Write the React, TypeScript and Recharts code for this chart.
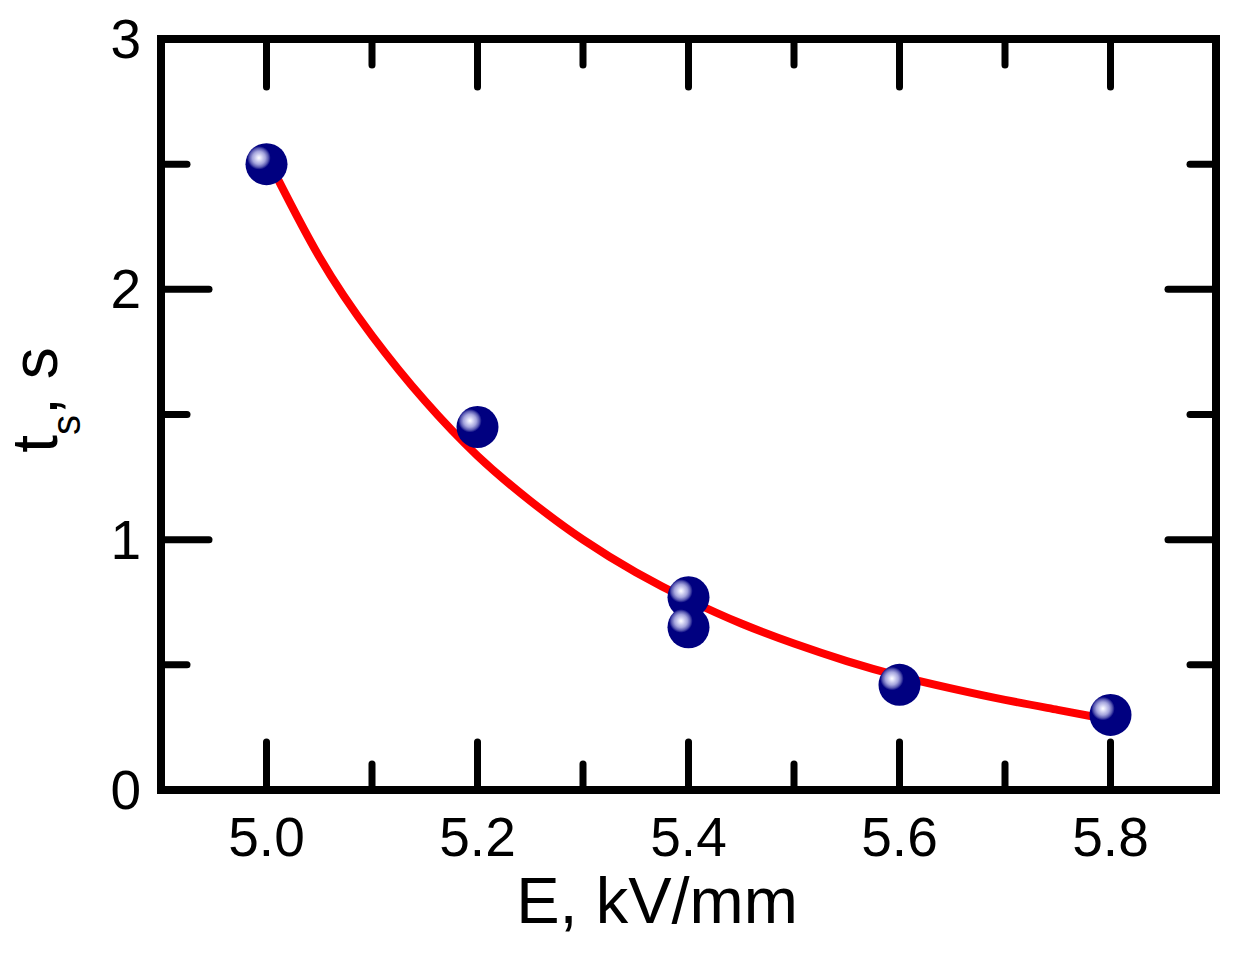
import React from "react";
import {
  ComposedChart,
  Scatter,
  Line,
  XAxis,
  YAxis,
} from "recharts";

// measured points: field strength (kV/mm) vs switching time (s)
const fieldE = [5.0, 5.2, 5.4, 5.4, 5.6, 5.8];
const switchTime = [2.5, 1.45, 0.77, 0.65, 0.42, 0.3];

// fitted curve
const fitE = [5.0, 5.05, 5.1, 5.15, 5.2, 5.25, 5.3, 5.35, 5.4, 5.45, 5.5, 5.55, 5.6, 5.65, 5.7, 5.75, 5.8];
const fitT = [2.53, 2.13, 1.815, 1.555, 1.335, 1.155, 1.0, 0.87, 0.76, 0.665, 0.585, 0.515, 0.455, 0.405, 0.36, 0.32, 0.28];

const xTicks = [5.0, 5.1, 5.2, 5.3, 5.4, 5.5, 5.6, 5.7, 5.8];
const xLabels = [5.0, 5.2, 5.4, 5.6, 5.8];
const yTicks = [0, 0.5, 1, 1.5, 2, 2.5, 3];
const yLabels = [0, 1, 2, 3];

const points = fieldE.map((E, i) => ({ E, t: switchTime[i] }));
const fit = fitE.map((E, i) => ({ E, t: fitT[i] }));

const FONT = "'Liberation Sans', Arial, sans-serif";
const MAJOR = 48;
const MINOR = 26;

const isIn = (list: number[], v: number) => list.some((l) => Math.abs(l - v) < 1e-6);

const tickLine = {
  stroke: "#000",
  strokeWidth: 7,
  strokeLinecap: "round" as const,
};

const BottomTick = (props: any) => {
  const { x, y, payload } = props;
  const major = isIn(xLabels, payload.value);
  return (
    <g>
      <line x1={x} x2={x} y1={y} y2={y - (major ? MAJOR : MINOR)} {...tickLine} />
      {major && (
        <text x={x} y={y + 66} textAnchor="middle" fontSize={55} fontFamily={FONT} fill="#000">
          {payload.value.toFixed(1)}
        </text>
      )}
    </g>
  );
};

const TopTick = (props: any) => {
  const { x, y, payload } = props;
  const major = isIn(xLabels, payload.value);
  return <line x1={x} x2={x} y1={y} y2={y + (major ? MAJOR : MINOR)} {...tickLine} />;
};

const LeftTick = (props: any) => {
  const { x, y, payload } = props;
  const major = isIn(yLabels, payload.value);
  return (
    <g>
      <line x1={x} x2={x + (major ? MAJOR : MINOR)} y1={y} y2={y} {...tickLine} />
      {major && (
        <text x={x - 20} y={y + 19} textAnchor="end" fontSize={55} fontFamily={FONT} fill="#000">
          {payload.value}
        </text>
      )}
    </g>
  );
};

const RightTick = (props: any) => {
  const { x, y, payload } = props;
  const major = isIn(yLabels, payload.value);
  return <line x1={x} x2={x - (major ? MAJOR : MINOR)} y1={y} y2={y} {...tickLine} />;
};

const Ball = (props: any) => {
  const { cx, cy, index } = props;
  const id = `ball-${index}`;
  return (
    <g>
      <defs>
        <radialGradient id={id} cx="0.32" cy="0.35" fx="0.32" fy="0.35" r="0.7">
          <stop offset="0" stopColor="#ffffff" />
          <stop offset="0.07" stopColor="#e4e4fa" />
          <stop offset="0.22" stopColor="#a4a4dc" />
          <stop offset="0.32" stopColor="#5858b0" />
          <stop offset="0.4" stopColor="#000080" />
          <stop offset="1" stopColor="#000080" />
        </radialGradient>
      </defs>
      <circle cx={cx} cy={cy} r={21} fill={`url(#${id})`} />
    </g>
  );
};

const frame = {
  stroke: "#000",
  strokeWidth: 8,
  strokeLinecap: "square" as const,
};

export default function App() {
  return (
    <div style={{ position: "absolute", left: 0, top: 0, width: 1244, height: 953, background: "#fff" }}>
      <ComposedChart
        width={1244}
        height={953}
        margin={{ top: 38, right: 27, bottom: 162, left: 160 }}
      >
        <XAxis
          xAxisId="bottom"
          dataKey="E"
          type="number"
          domain={[4.9, 5.9]}
          allowDataOverflow
          ticks={xTicks}
          interval={0}
          height={1}
          tickSize={0}
          tickMargin={0}
          tickLine={false}
          axisLine={frame}
          tick={<BottomTick />}
        />
        <XAxis
          xAxisId="top"
          orientation="top"
          dataKey="E"
          type="number"
          domain={[4.9, 5.9]}
          allowDataOverflow
          ticks={xTicks}
          interval={0}
          height={1}
          tickSize={0}
          tickMargin={0}
          tickLine={false}
          axisLine={frame}
          tick={<TopTick />}
        />
        <YAxis
          yAxisId="left"
          dataKey="t"
          type="number"
          domain={[0, 3]}
          allowDataOverflow
          ticks={yTicks}
          interval={0}
          width={1}
          tickSize={0}
          tickMargin={0}
          tickLine={false}
          axisLine={frame}
          tick={<LeftTick />}
        />
        <YAxis
          yAxisId="right"
          orientation="right"
          dataKey="t"
          type="number"
          domain={[0, 3]}
          allowDataOverflow
          ticks={yTicks}
          interval={0}
          width={1}
          tickSize={0}
          tickMargin={0}
          tickLine={false}
          axisLine={frame}
          tick={<RightTick />}
        />
        <Scatter
          data={points}
          dataKey="t"
          xAxisId="bottom"
          yAxisId="left"
          shape={<Ball />}
          isAnimationActive={false}
        />
        <Line
          data={fit}
          dataKey="t"
          xAxisId="bottom"
          yAxisId="left"
          type="natural"
          stroke="#ff0000"
          strokeWidth={8}
          dot={false}
          activeDot={false}
          isAnimationActive={false}
        />
        <text
          x={657}
          y={923}
          textAnchor="middle"
          fontSize={65}
          fontFamily={FONT}
          fill="#000"
        >
          E, kV/mm
        </text>
        <text
          transform="translate(57,400) rotate(-90)"
          textAnchor="middle"
          fontSize={64}
          fontFamily={FONT}
          fill="#000"
        >
          <tspan>t</tspan>
          <tspan fontSize={40} dy={23}>s</tspan>
          <tspan dy={-23}>, s</tspan>
        </text>
      </ComposedChart>
    </div>
  );
}
